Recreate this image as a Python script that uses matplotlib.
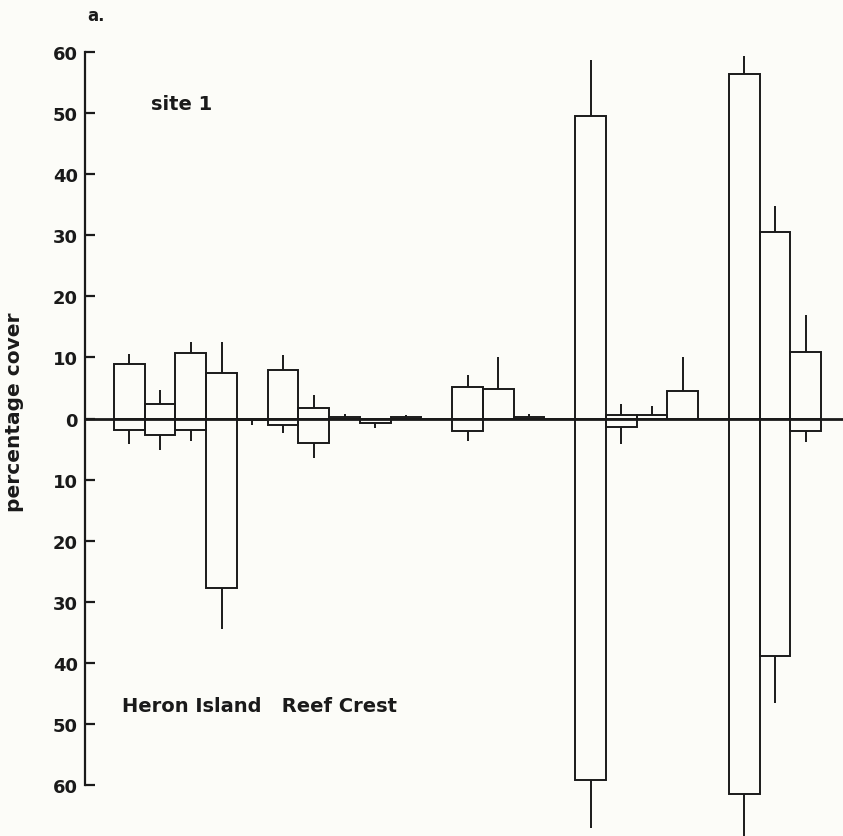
import matplotlib
matplotlib.use("Agg")
import matplotlib.pyplot as plt
import numpy as np

# percentage cover per slot (23 slots, empty slots are 0)
cover_up = [9.0, 2.3, 10.8, 7.4, 0, 7.9, 1.8, 0.3, 0, 0.3, 0, 5.1,
            4.8, 0.2, 0, 49.5, 0.6, 0.6, 4.5, 0, 56.4, 30.5, 10.9]
err_up = [1.5, 2.4, 1.8, 5.2, 0, 2.5, 2.0, 0.4, 0, 0.3, 0, 2.0,
          5.3, 0.5, 0, 9.2, 1.8, 1.5, 5.6, 0, 3.0, 4.3, 6.0]
cover_down = [1.9, 2.7, 1.9, 27.7, 0.3, 1.0, 4.0, 0, 0.8, 0, 0, 2.0,
              0, 0, 0, 59.1, 1.4, 0, 0, 0, 61.5, 38.8, 2.1]
err_down = [2.3, 2.5, 1.7, 6.7, 0.7, 1.4, 2.4, 0, 0.7, 0, 0, 1.6,
            0, 0, 0, 8.0, 2.7, 0, 0, 0, 6.8, 7.8, 1.8]

ytick_vals = list(range(-60, 61, 10))
ytick_labels = [str(abs(v)) for v in ytick_vals]

plt.rcParams["font.family"] = ["DejaVu Sans"]
plt.rcParams["font.weight"] = "bold"

fig = plt.figure(figsize=(8.43, 8.37), dpi=100, facecolor="#fcfcf8")
ax = fig.add_axes([0.1008, 0.0609, 0.8992, 0.8757])
ax.set_facecolor("none")

x = np.arange(len(cover_up))
up = np.array(cover_up)
dn = np.array(cover_down)
eu = np.array(err_up)
ed = np.array(err_down)

ink = "#1a1a1a"
lw = 1.4
ax.bar(x, up, width=1, align="edge", fill=False, edgecolor=ink,
       linewidth=lw, clip_on=False, zorder=3)
ax.bar(x, -dn, width=1, align="edge", fill=False, edgecolor=ink,
       linewidth=lw, clip_on=False, zorder=3)

m = eu > 0
ax.vlines(x[m] + 0.5, up[m], up[m] + eu[m], color=ink, linewidth=1.4,
          clip_on=False, zorder=3)
m = ed > 0
ax.vlines(x[m] + 0.5, -dn[m], -dn[m] - ed[m], color=ink, linewidth=1.4,
          clip_on=False, zorder=3)

ax.axhline(0, color=ink, linewidth=2.0, zorder=4)

ax.set_xlim(-0.943, 23.71)
ax.set_ylim(-60, 60)
for s in ["top", "right", "bottom"]:
    ax.spines[s].set_visible(False)
ax.spines["left"].set_linewidth(1.6)
ax.spines["left"].set_color(ink)
ax.set_xticks([])
ax.set_yticks(ytick_vals)
ax.set_yticklabels(ytick_labels, fontsize=13, fontweight="bold")
ax.tick_params(axis="y", direction="in", length=7, width=1.6, pad=5,
               colors=ink)

fig.text(15 / 843, 1 - 412 / 837, "percentage cover", rotation=90,
         ha="center", va="center", fontsize=14.5, fontweight="bold",
         color=ink)
fig.text(96 / 843, 1 - 16 / 837, "a.", ha="center", va="center",
         fontsize=12, fontweight="bold", color=ink)
fig.text(151 / 843, 1 - 104 / 837, "site 1", ha="left", va="center",
         fontsize=14, fontweight="bold", color=ink)
fig.text(122 / 843, 1 - 707 / 837, "Heron Island   Reef Crest",
         ha="left", va="center", fontsize=14, fontweight="bold", color=ink)

plt.savefig("out.png", dpi=100, facecolor=fig.get_facecolor())
